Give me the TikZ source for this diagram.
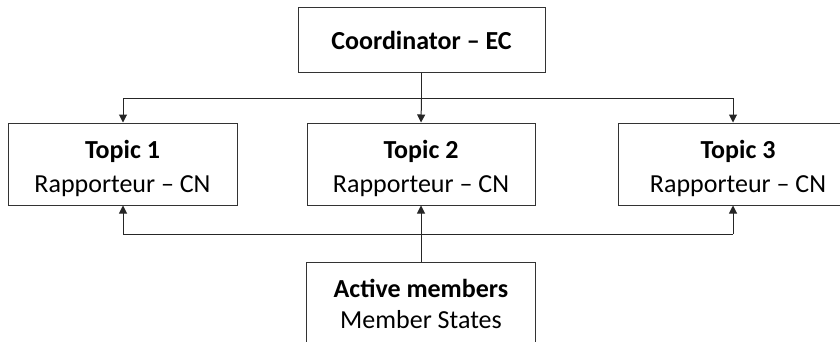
\documentclass[tikz,border=0pt]{standalone}
\usepackage{fontspec}
\setmainfont{Carlito}
\usetikzlibrary{arrows.meta}
\begin{document}
\begin{tikzpicture}[x=1pt,y=-1pt,
  box/.style={draw=black!80,line width=1pt,rectangle,inner sep=0pt},
  lbl/.style={align=center,inner sep=0pt,font=\fontsize{26}{34}\selectfont},
  link/.style={draw=black!85,line width=1pt},
  arr/.style={link,-{Triangle[width=8pt,length=8pt]}}]
\useasboundingbox (0,0) rectangle (840,341);
\clip (0,0) rectangle (840,341);
% boxes
\node[box,minimum width=247pt,minimum height=65pt] (coord) at (421.5,39.5) {};
\node[box,minimum width=229pt,minimum height=82pt] (t1) at (122.5,164) {};
\node[box,minimum width=228pt,minimum height=82pt] (t2) at (421,164) {};
\node[box,minimum width=240pt,minimum height=82pt] (t3) at (738,164) {};
\node[box,minimum width=229pt,minimum height=120pt] (am) at (420.5,322) {};
% labels
\node[lbl] (coordL) at ([yshift=-1pt]coord.center) {\textbf{Coordinator – EC}};
\node[lbl] (t1L) at ([yshift=-4pt]t1.center) {\textbf{Topic 1}\\Rapporteur – CN};
\node[lbl] (t2L) at ([yshift=-4pt]t2.center) {\textbf{Topic 2}\\Rapporteur – CN};
\node[lbl] (t3L) at ([yshift=-4pt]t3.center) {\textbf{Topic 3}\\Rapporteur – CN};
\node[lbl,anchor=north,font=\fontsize{26}{31}\selectfont] (amL) at (421,279) {\textbf{Active members}\\Member States};
% distribution from the coordinator
\coordinate (top1) at (123,98);
\coordinate (top3) at (733,98);
\draw[link] (coord.south) -- (coord.south |- top1);
\draw[link] (top1) -- (top3);
\draw[arr] (top1) -- (top1 |- t1.north);
\draw[arr] (coord.south |- top1) -- (t2.north);
\draw[arr] (top3) -- (top3 |- t3.north);
% feedback from the active members
\coordinate (bot1) at (123,234);
\coordinate (bot3) at (733,234);
\draw[link] (bot1) -- (bot3);
\draw[arr] (bot1) -- (bot1 |- t1.south);
\draw[arr] (bot3) -- (bot3 |- t3.south);
\draw[arr] (am.north -| t2.south) -- (t2.south);
\end{tikzpicture}
\end{document}
